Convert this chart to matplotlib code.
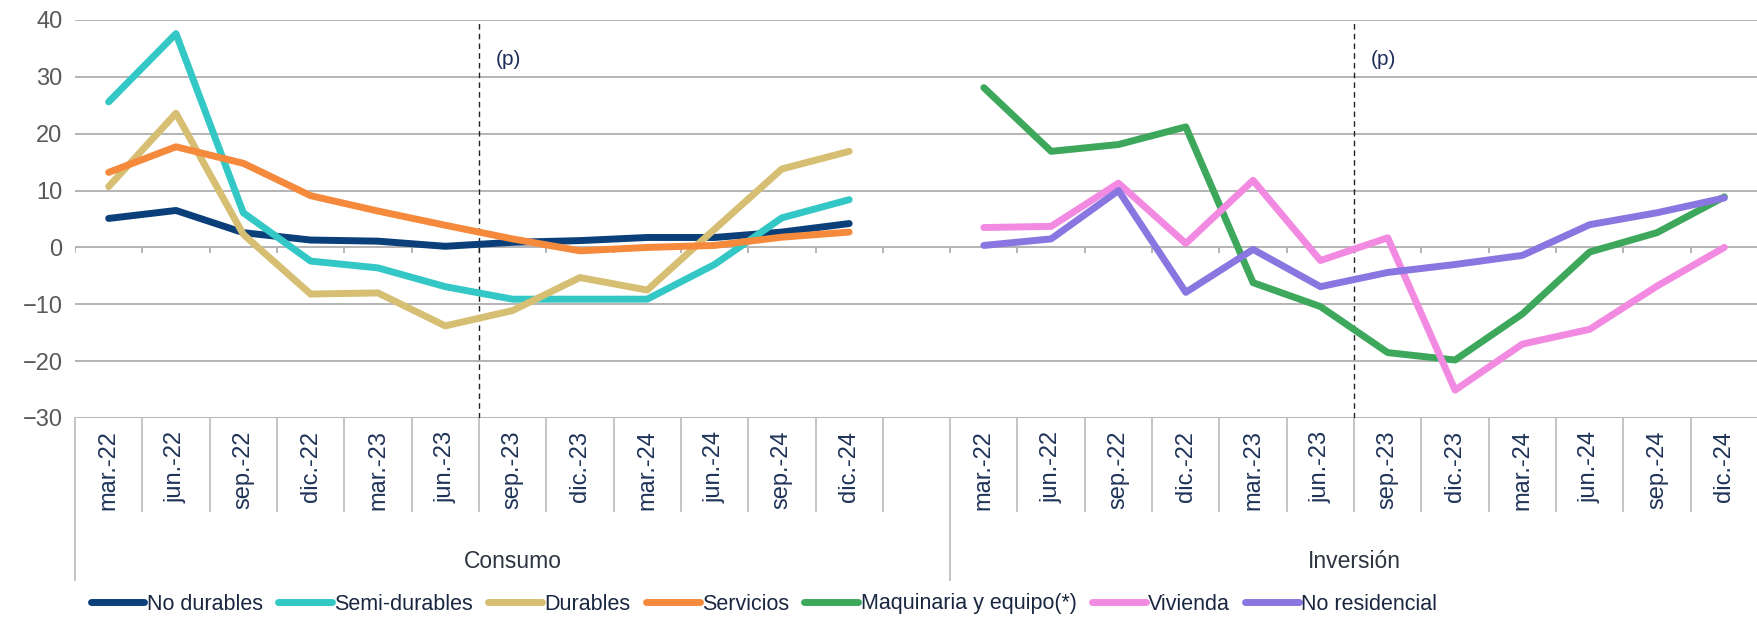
import numpy as np
import matplotlib
matplotlib.use("Agg")
import matplotlib.pyplot as plt
import matplotlib.transforms as mtransforms

plt.rcParams['font.family'] = ['Liberation Sans', 'DejaVu Sans']

# datos (variación %)
meses = ['mar.-22', 'jun.-22', 'sep.-22', 'dic.-22', 'mar.-23', 'jun.-23',
         'sep.-23', 'dic.-23', 'mar.-24', 'jun.-24', 'sep.-24', 'dic.-24']
grupos = ['Consumo', 'Inversión']

no_durables = [5.1, 6.5, 2.6, 1.3, 1.1, 0.2, 0.9, 1.2, 1.75, 1.75, 2.7, 4.2]
semi_durables = [25.6, 37.6, 6.1, -2.4, -3.6, -6.9, -9.1, -9.1, -9.1, -3.0, 5.2, 8.4]
durables = [10.7, 23.6, 2.3, -8.2, -8.0, -13.8, -11.1, -5.3, -7.5, 3.2, 13.8, 16.9]
servicios = [13.2, 17.7, 14.8, 9.1, 6.4, 3.9, 1.5, -0.6, 0.0, 0.35, 1.8, 2.7]
maquinaria = [28.1, 16.9, 18.1, 21.2, -6.2, -10.4, -18.5, -19.8, -11.7, -0.8, 2.6, 8.9]
vivienda = [3.5, 3.7, 11.3, 0.7, 11.8, -2.3, 1.7, -25.1, -17.0, -14.4, -6.8, 0.0]
no_residencial = [0.35, 1.5, 10.0, -7.9, -0.35, -6.9, -4.4, -3.0, -1.4, 4.0, 6.1, 8.7]

consumo = [('No durables', no_durables, '#0B3F7A'),
           ('Semi-durables', semi_durables, '#33C8C6'),
           ('Durables', durables, '#D6BE72'),
           ('Servicios', servicios, '#F58A3D')]
inversion = [('Maquinaria y equipo(*)', maquinaria, '#3DA85C'),
             ('Vivienda', vivienda, '#F28AE2'),
             ('No residencial', no_residencial, '#8A76E0')]

n = len(meses)
x_con = np.arange(n)
x_inv = np.arange(n + 1, 2 * n + 1)
total = 2 * n + 1

W, H = 1758, 618
fig = plt.figure(figsize=(W / 100, H / 100), dpi=100)
ax = fig.add_axes([75 / W, 1 - 418 / H, (W - 75) / W * 1.0, 398 / H])

for nombre, vals, col in consumo:
    ax.plot(x_con, vals, color=col, lw=5, label=nombre,
            solid_capstyle='round', solid_joinstyle='round', zorder=3)
for nombre, vals, col in inversion:
    ax.plot(x_inv, vals, color=col, lw=5, label=nombre,
            solid_capstyle='round', solid_joinstyle='round', zorder=3)

ax.set_xlim(-0.5, total - 0.5)
ax.set_ylim(-30, 40)
ax.set_yticks(np.arange(-30, 41, 10))
ax.yaxis.grid(True, color='#B4B4B4', lw=1.4)
ax.set_axisbelow(True)
for s in ax.spines.values():
    s.set_visible(False)
ax.tick_params(axis='y', length=0, pad=9, labelsize=17, labelcolor='#595959')

# etiquetas de categoría
etiquetas = meses + [''] + meses
ax.set_xticks(np.arange(total))
ax.set_xticklabels(etiquetas, rotation=90, fontsize=17, color='#1F3358')
ax.tick_params(axis='x', length=0, pad=9)

# marcas sobre el eje en 0
bordes = np.arange(total + 1) - 0.5
ax.vlines(bordes, -0.9, 0, color='#B4B4B4', lw=1.4, zorder=2)

# separadores bajo el eje
trans = mtransforms.blended_transform_factory(ax.transData, ax.transAxes)
for b in bordes:
    grupo = b in (-0.5, n + 0.5, total - 0.5)
    y1 = -162 / 398 if grupo else -93 / 398
    ax.plot([b, b], [0, y1], color='#BFBFBF', lw=1.3, transform=trans, clip_on=False)
ax.text(n / 2, -143 / 398, grupos[0], transform=trans, ha='center',
        va='center', fontsize=16.5, color='#2E3440')
ax.text((n + 0.5 + total - 0.5) / 2, -143 / 398, grupos[1], transform=trans, ha='center',
        va='center', fontsize=16.5, color='#2E3440')

# líneas de proyección
for xd in (5.5, n + 1 + 5.5):
    ax.axvline(xd, color='#222222', lw=1.0, ls=(0, (4, 3)), zorder=2)
    ax.text(xd + 0.25, 33, '(p)', fontsize=15, color='#1F2D5A', va='center', ha='left')

handles, labels = ax.get_legend_handles_labels()
fig.legend(handles, labels, loc='center', bbox_to_anchor=(764 / W, 1 - 604 / H), ncol=7,
           frameon=False, fontsize=15.5, handlelength=2.5, handletextpad=0.12,
           columnspacing=0.7, labelcolor='#1A2740')

fig.savefig('out.png', dpi=100)
